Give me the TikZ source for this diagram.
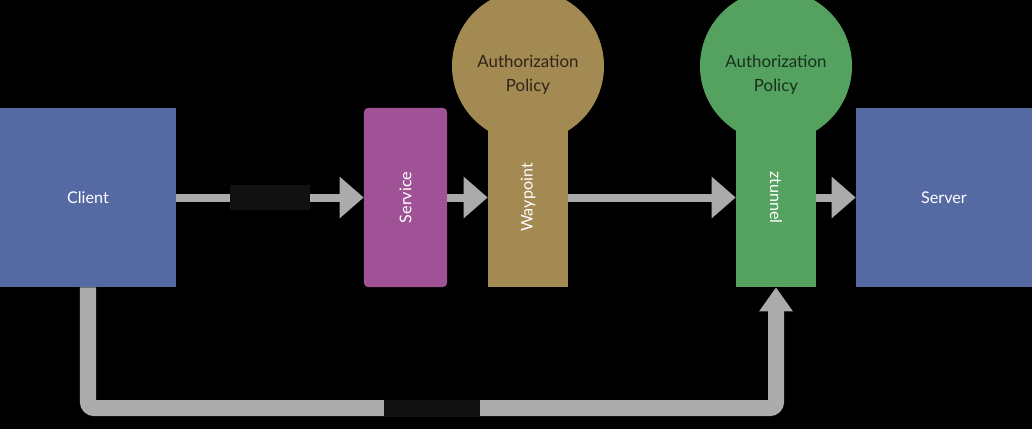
\documentclass[tikz,border=0pt]{standalone}
\usepackage{fontspec}
\setmainfont{Lato}
\usetikzlibrary{arrows.meta}
\definecolor{clientblue}{HTML}{5569A3}
\definecolor{svcpink}{HTML}{A05297}
\definecolor{wpbrown}{HTML}{A38A52}
\definecolor{ztgreen}{HTML}{55A260}
\definecolor{flowgray}{HTML}{ABABAB}
\definecolor{tagdark}{HTML}{111111}
\definecolor{polwp}{HTML}{2E2418}
\definecolor{polzt}{HTML}{16301C}

\begin{document}
\begin{tikzpicture}[x=0.025cm,y=-0.025cm,
   hostbox/.style={draw=none,minimum width=4.4cm,minimum height=4.475cm,text=white,font=\fontsize{11.5}{13}\selectfont},
   stembox/.style={draw=none,minimum width=2cm,minimum height=4.475cm},
   stemtext/.style={text=white,font=\fontsize{11.5}{13}\selectfont},
   policy/.style={circle,draw=none,minimum size=3.8cm},
   policytext/.style={align=center,font=\fontsize{12}{17}\selectfont},
   flow/.style={draw=flowgray,line width=0.2cm,-{Triangle[width=1cm,length=0.6cm]}},
   tagbox/.style={fill=tagdark,inner sep=0pt}]
   \useasboundingbox (0,0) rectangle (1032,429);
   \fill[black] (0,0) rectangle (1032,429);
   \clip (0,0) rectangle (1032,429);

   \node[hostbox,fill=clientblue] (client) at (88,197.5) {Client};
   \node[hostbox,fill=clientblue] (server) at (944,197.5) {Server};
   \node[stembox,fill=svcpink,minimum width=2.075cm,rounded corners=0.1cm] (service) at (405.5,197.5) {};
   \node[stemtext,rotate=90] (servicetxt) at (service.center) {Service};

   \node[policy,fill=wpbrown] (wppol) at (528,66) {};
   \node[stembox,fill=wpbrown] (waypoint) at (528,197.5) {};
   \node[policytext,text=polwp] (wppoltxt) at (528,74.5) {Authorization\\Policy};
   \node[stemtext,rotate=90] (wptxt) at (waypoint.center) {Waypoint};

   \node[policy,fill=ztgreen] (ztpol) at (776,66) {};
   \node[stembox,fill=ztgreen] (ztunnel) at (776,197.5) {};
   \node[policytext,text=polzt] (ztpoltxt) at (776,74.5) {Authorization\\Policy};
   \node[stemtext,rotate=-90] (zttxt) at (ztunnel.center) {ztunnel};

   \coordinate (bendl) at (88,408);
   \coordinate (bendr) at (776,408);

   \path[flow] (client) -- node[tagbox,minimum width=2cm,minimum height=0.625cm] (tag1) {} (service);
   \path[flow] (service) -- (waypoint);
   \path[flow] (waypoint) -- (ztunnel);
   \path[flow] (ztunnel) -- (server);
   \draw[draw=flowgray,line width=0.4cm,rounded corners=0.15cm,-{Triangle[width=0.8cm,length=0.6cm]}]
      (client.south) -- (bendl) -- (bendr) -- (ztunnel.south);
   \node[tagbox,minimum width=2.4cm,minimum height=0.4cm] (tag2) at (432,408) {};
\end{tikzpicture}
\end{document}
